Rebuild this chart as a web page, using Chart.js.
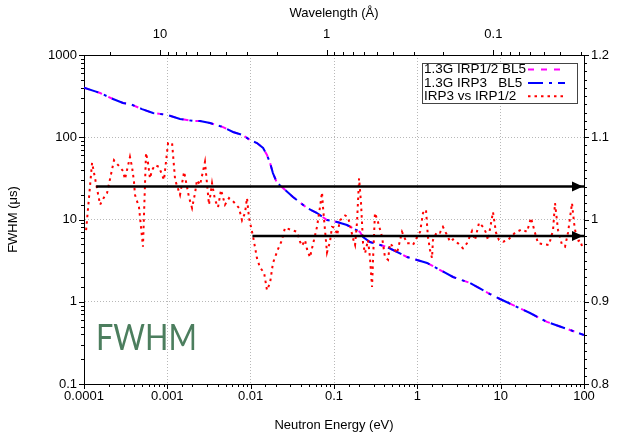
<!DOCTYPE html>
<html>
<head>
<meta charset="utf-8">
<script src="https://cdn.jsdelivr.net/npm/chart.js@4.4.1/dist/chart.umd.min.js"></script>
<style>
    html, body { margin: 0; padding: 0; background: #fff; }
    #wrap { width: 624px; height: 434px; }
</style>
</head>
<body>
<div id="wrap"><canvas id="chart" width="624" height="434"></canvas></div>
<script>
// FWHM of the moderator pulse (left axis, us)
const fwhmEnergy = [1e-4, 1.56e-4, 2.23e-4, 2.94e-4, 3.56e-4, 4.97e-4, 6.73e-4, 9.91e-4, 1.42e-3, 2.03e-3,
    2.47e-3, 3.25e-3, 4.66e-3, 6.14e-3, 8.09e-3, 9.82e-3, 1.19e-2, 1.41e-2, 1.57e-2, 1.71e-2,
    1.85e-2, 2.07e-2, 2.44e-2, 3.22e-2, 4.74e-2, 6.25e-2, 8.24e-2, 0.109, 0.143, 0.205,
    0.223, 0.27, 0.433, 0.752, 1.31, 2.68, 4.29, 7.45, 9.82, 22.5,
    36.0, 67.9, 100];
const fwhmIrp12 = [400, 345, 292, 261, 254, 220, 197, 187, 167, 158,
    158, 149, 133, 116, 106, 92.6, 85, 74, 60.8, 48.6,
    36.7, 27.8, 24.2, 18.8, 13.8, 12.0, 9.86, 9.33, 8.57, 7.05,
    6.12, 5.32, 4.63, 3.50, 2.96, 2.0, 1.69, 1.24, 1.08, 0.73,
    0.568, 0.454, 0.394];
const fwhmIrp3 = [400, 345, 292, 261, 254, 220, 197, 187, 167, 158,
    158, 149, 133, 116, 106, 92.6, 85, 74, 60.8, 48.6,
    36.7, 27.8, 24.2, 18.8, 13.8, 12.0, 9.86, 9.33, 8.57, 7.05,
    6.12, 5.32, 4.63, 3.50, 2.96, 2.0, 1.69, 1.24, 1.08, 0.73,
    0.568, 0.454, 0.394];

// IRP3 / IRP1/2 ratio (right axis)
const ratioEnergy = [1.06e-4, 1.25e-4, 1.56e-4, 1.74e-4, 1.89e-4, 2.29e-4, 2.63e-4, 2.94e-4, 3.1e-4, 3.56e-4,
    3.77e-4, 3.98e-4, 4.09e-4, 4.57e-4, 5.1e-4, 5.55e-4, 5.86e-4, 6.19e-4, 6.55e-4, 7.11e-4,
    7.94e-4, 9.12e-4, 1.02e-3, 1.14e-3, 1.24e-3, 1.42e-3, 1.59e-3, 1.82e-3, 1.98e-3, 2.15e-3,
    2.27e-3, 2.47e-3, 2.83e-3, 3.16e-3, 3.44e-3, 3.73e-3, 4.06e-3, 4.41e-3, 4.92e-3, 5.5e-3,
    6.31e-3, 7.24e-3, 7.87e-3, 8.55e-3, 9.04e-3, 9.55e-3, 1.07e-2, 1.19e-2, 1.29e-2, 1.45e-2,
    1.57e-2, 1.71e-2, 1.85e-2, 2.13e-2, 2.38e-2, 2.58e-2, 3.13e-2, 3.6e-2, 3.91e-2, 4.13e-2,
    4.49e-2, 4.74e-2, 5.15e-2, 5.45e-2, 5.75e-2, 6.25e-2, 6.79e-2, 7.18e-2, 7.38e-2, 7.8e-2,
    8.24e-2, 8.95e-2, 9.46e-2, 0.103, 0.109, 0.118, 0.136, 0.147, 0.156, 0.169,
    0.179, 0.189, 0.2, 0.211, 0.223, 0.236, 0.256, 0.27, 0.286, 0.294,
    0.31, 0.337, 0.377, 0.409, 0.445, 0.47, 0.51, 0.57, 0.655, 0.752,
    0.817, 0.887, 1.02, 1.08, 1.17, 1.27, 1.34, 1.42, 1.5, 1.54,
    1.72, 1.87, 2.03, 2.27, 2.47, 2.68, 3.08, 3.53, 3.94, 4.53,
    4.92, 5.5, 6.14, 6.67, 7.05, 8.09, 8.79, 9.55, 10.7, 12.2,
    14.9, 18.0, 20.7, 23.1, 25.8, 28.1, 32.2, 38.0, 42.5, 44.9,
    48.8, 54.5, 59.2, 64.3, 71.8, 75.9, 82.4, 89.5, 97.3];
const ratioValue = [0.987, 1.069, 1.018, 1.027, 1.032, 1.072, 1.065, 1.059, 1.049, 1.076,
    1.064, 1.046, 1.030, 1.015, 0.967, 1.081, 1.069, 1.050, 1.060, 1.066,
    1.064, 1.048, 1.093, 1.093, 1.048, 1.030, 1.058, 1.027, 1.014, 1.032,
    1.048, 1.042, 1.070, 1.018, 1.044, 1.024, 1.015, 1.036, 1.018, 1.026,
    1.021, 1.014, 0.999, 1.008, 1.026, 1.002, 0.979, 0.953, 0.942, 0.935,
    0.914, 0.923, 0.947, 0.964, 0.975, 0.990, 0.987, 0.985, 0.973, 0.968,
    0.975, 0.964, 0.954, 0.965, 0.975, 0.991, 1.015, 1.033, 1.015, 0.987,
    0.960, 0.973, 0.991, 0.990, 0.981, 0.999, 1.005, 1.003, 0.993, 0.977,
    0.969, 0.997, 1.050, 1.020, 0.971, 0.959, 0.975, 0.954, 0.918, 0.951,
    1.008, 0.997, 0.979, 0.954, 0.951, 0.971, 0.967, 0.959, 0.985, 0.971,
    0.971, 0.969, 0.981, 0.985, 1.008, 1.012, 0.979, 0.963, 0.953, 0.975,
    0.985, 0.984, 0.991, 0.981, 0.973, 0.976, 0.971, 0.965, 0.971, 0.986,
    0.975, 0.996, 0.991, 0.984, 0.975, 1.009, 0.984, 0.975, 0.973, 0.975,
    0.984, 0.988, 0.985, 1.002, 0.984, 0.971, 0.970, 0.969, 0.987, 1.020,
    0.987, 0.969, 0.967, 0.984, 1.020, 0.996, 0.973, 0.975, 0.964];

// Reference arrows (right axis levels)
const arrowUpperEnergy = [1.4e-4, 100];
const arrowUpperLevel = 1.04;
const arrowLowerEnergy = [0.0105, 100];
const arrowLowerLevel = 0.98;

// Top axis: wavelength ticks in Angstrom
const wavelengthMajor = [10, 1, 0.1];
const wavelengthMinor = [20, 9, 8, 7, 6, 5, 4, 3, 2,
    0.9, 0.8, 0.7, 0.6, 0.5, 0.4, 0.3, 0.2,
    0.09, 0.08, 0.07, 0.06, 0.05, 0.04, 0.03];

const seriesLabels = ['1.3G IRP1/2 BL5', '1.3G IRP3   BL5', 'IRP3 vs IRP1/2'];
const annotationText = 'FWHM';

const FONT = '"Liberation Sans", Arial, Helvetica, sans-serif';
Chart.defaults.font.family = FONT;
Chart.defaults.font.size = 13;
Chart.defaults.color = '#000';

// E[eV] = 0.0818 / lambda^2 [A]
const lambdaToEnergy = l => 0.0818 / (l * l);
const isDecade = v => Math.abs(Math.log10(v) - Math.round(Math.log10(v))) < 1e-6;
const toPoints = (xs, ys) => xs.map((x, i) => ({ x: x, y: ys[i] }));

const gridColor = c => (c.tick && isDecade(c.tick.value)) ? '#b8b8b8' : 'rgba(0,0,0,0)';

// Tick marks drawn outside the frame, longer on major ticks
const outerTicks = {
    id: 'outerTicks',
    afterDraw(chart) {
        const { ctx, chartArea: a, scales } = chart;
        ctx.save();
        ctx.strokeStyle = '#000';
        ctx.lineWidth = 1;
        ctx.beginPath();
        ['x', 'xTop', 'y', 'y2'].forEach(id => {
            const s = scales[id];
            s.ticks.forEach(t => {
                let major;
                if (id === 'y2') major = Math.abs(t.value * 10 - Math.round(t.value * 10)) < 1e-6;
                else if (id === 'xTop') major = !!t.major;
                else major = isDecade(t.value);
                const len = major ? 5 : 3;
                const p = Math.round(s.getPixelForValue(t.value)) + 0.5;
                if (id === 'x') { ctx.moveTo(p, a.bottom); ctx.lineTo(p, a.bottom + len); }
                if (id === 'xTop') { ctx.moveTo(p, a.top); ctx.lineTo(p, a.top - len); }
                if (id === 'y') { ctx.moveTo(a.left, p); ctx.lineTo(a.left - len, p); }
                if (id === 'y2') { ctx.moveTo(a.right, p); ctx.lineTo(a.right + len, p); }
            });
        });
        ctx.stroke();
        ctx.restore();
    }
};

// Filled arrow heads at the last point of the arrow datasets
const arrowHeads = {
    id: 'arrowHeads',
    afterDatasetsDraw(chart) {
        const ctx = chart.ctx;
        chart.data.datasets.forEach((ds, i) => {
            if (!ds.arrow) return;
            const pts = chart.getDatasetMeta(i).data;
            const tip = pts[pts.length - 1];
            const prev = pts[pts.length - 2];
            const ang = Math.atan2(tip.y - prev.y, tip.x - prev.x);
            ctx.save();
            ctx.translate(tip.x - 1, tip.y);
            ctx.rotate(ang);
            ctx.beginPath();
            ctx.moveTo(0, 0);
            ctx.lineTo(-11, -5);
            ctx.lineTo(-11, 5);
            ctx.closePath();
            ctx.fillStyle = ds.borderColor;
            ctx.fill();
            ctx.restore();
        });
    }
};

// gnuplot-style key: text on the left, sample on the right
const keyBox = {
    id: 'keyBox',
    afterDatasetsDraw(chart) {
        const { ctx, chartArea: a } = chart;
        const w = 155, h = 40;
        const right = a.right - 7, top = a.top + 8, left = right - w;
        ctx.save();
        ctx.fillStyle = '#fff';
        ctx.fillRect(left, top, w, h);
        ctx.strokeStyle = '#444';
        ctx.lineWidth = 1;
        ctx.strokeRect(left + 0.5, top + 0.5, w, h);
        ctx.font = '13.5px ' + FONT;
        ctx.textBaseline = 'middle';
        chart.data.datasets.filter(d => d.inKey).forEach((ds, i) => {
            const y = top + 6.5 + i * 13.4;
            ctx.fillStyle = '#000';
            ctx.fillText(ds.label, left + 2, y);
            ctx.strokeStyle = ds.borderColor;
            ctx.lineWidth = ds.borderWidth;
            ctx.setLineDash(ds.borderDash || []);
            ctx.beginPath();
            ctx.moveTo(right - 49, y);
            ctx.lineTo(right - 12, y);
            ctx.stroke();
            ctx.setLineDash([]);
        });
        ctx.restore();
    }
};

// Big green label in the lower left corner
const cornerLabel = {
    id: 'cornerLabel',
    afterDatasetsDraw(chart) {
        const { ctx, chartArea: a } = chart;
        ctx.save();
        ctx.font = '400 36px Lato';
        const sx = 101 / ctx.measureText(annotationText).width;
        ctx.translate(a.left + 12, a.bottom - 34);
        ctx.scale(sx, 1);
        ctx.fillStyle = '#4c7e5e';
        ctx.textBaseline = 'alphabetic';
        ctx.fillText(annotationText, 0, 0);
        ctx.restore();
    }
};

const lineBase = { pointRadius: 0, pointHoverRadius: 0, tension: 0, fill: false };

new Chart(document.getElementById('chart'), {
    type: 'line',
    data: {
        datasets: [
            Object.assign({}, lineBase, {
                label: seriesLabels[0], data: toPoints(fwhmEnergy, fwhmIrp12), yAxisID: 'y',
                borderColor: '#ff00ff', borderWidth: 2, borderDash: [6, 7], order: 4, inKey: true
            }),
            Object.assign({}, lineBase, {
                label: seriesLabels[1], data: toPoints(fwhmEnergy, fwhmIrp3), yAxisID: 'y',
                borderColor: '#0000ff', borderWidth: 2, borderDash: [15, 6, 3, 6], order: 3, inKey: true
            }),
            Object.assign({}, lineBase, {
                label: seriesLabels[2], data: toPoints(ratioEnergy, ratioValue), yAxisID: 'y2',
                borderColor: '#ff0000', borderWidth: 2, borderDash: [2.5, 4], order: 2, inKey: true
            }),
            Object.assign({}, lineBase, {
                label: 'upper', data: arrowUpperEnergy.map(e => ({ x: e, y: arrowUpperLevel })), yAxisID: 'y2',
                borderColor: '#000', borderWidth: 2.5, order: 1, arrow: true
            }),
            Object.assign({}, lineBase, {
                label: 'lower', data: arrowLowerEnergy.map(e => ({ x: e, y: arrowLowerLevel })), yAxisID: 'y2',
                borderColor: '#000', borderWidth: 2.5, order: 1, arrow: true
            })
        ]
    },
    options: {
        responsive: false,
        animation: false,
        events: [],
        layout: { padding: 0 },
        plugins: {
            legend: { display: false },
            tooltip: { enabled: false }
        },
        scales: {
            x: {
                type: 'logarithmic',
                position: 'bottom',
                min: 1e-4,
                max: 100,
                afterFit: s => { s.height = 50; },
                grid: { drawTicks: false, color: gridColor, lineWidth: 1 },
                border: { display: true, color: '#000', width: 1, dash: [1, 2] },
                ticks: {
                    autoSkip: false, maxRotation: 0, minRotation: 0, padding: 5,
                    callback: v => isDecade(v) ? String(v) : ''
                },
                title: { display: true, text: 'Neutron Energy (eV)', padding: { top: 0, bottom: 1 } }
            },
            xTop: {
                type: 'logarithmic',
                position: 'top',
                min: 1e-4,
                max: 100,
                afterFit: s => { s.height = 55; },
                afterBuildTicks: s => {
                    const all = wavelengthMajor.map(l => ({ l: l, major: true }))
                        .concat(wavelengthMinor.map(l => ({ l: l, major: false })));
                    s.ticks = all
                        .map(o => ({ value: lambdaToEnergy(o.l), major: o.major, lambda: o.l }))
                        .sort((p, q) => p.value - q.value);
                },
                grid: { drawTicks: false, drawOnChartArea: false },
                border: { display: true, color: '#000', width: 1 },
                ticks: {
                    autoSkip: false, maxRotation: 0, minRotation: 0, padding: 13,
                    callback: (v, i, ticks) => ticks[i].major ? String(ticks[i].lambda) : ''
                },
                title: { display: true, text: 'Wavelength (Å)', padding: { top: 6, bottom: 0 } }
            },
            y: {
                type: 'logarithmic',
                position: 'left',
                min: 0.1,
                max: 1000,
                afterFit: s => { s.width = 84; },
                grid: { drawTicks: false, color: gridColor, lineWidth: 1 },
                border: { display: true, color: '#000', width: 1, dash: [1, 2] },
                ticks: {
                    autoSkip: false, padding: 7,
                    callback: v => isDecade(v) ? String(v) : ''
                },
                title: { display: true, text: 'FWHM (μs)', padding: { top: 6, bottom: 0 } }
            },
            y2: {
                type: 'linear',
                position: 'right',
                min: 0.8,
                max: 1.2,
                afterFit: s => { s.width = 40; },
                grid: { drawTicks: false, drawOnChartArea: false },
                border: { display: true, color: '#000', width: 1 },
                ticks: {
                    stepSize: 0.01, maxTicksLimit: 100, autoSkip: false, padding: 7,
                    callback: v => Math.abs(v * 10 - Math.round(v * 10)) < 1e-6 ? String(Math.round(v * 10) / 10) : ''
                }
            }
        }
    },
    plugins: [outerTicks, arrowHeads, keyBox, cornerLabel]
});
</script>
</body>
</html>
